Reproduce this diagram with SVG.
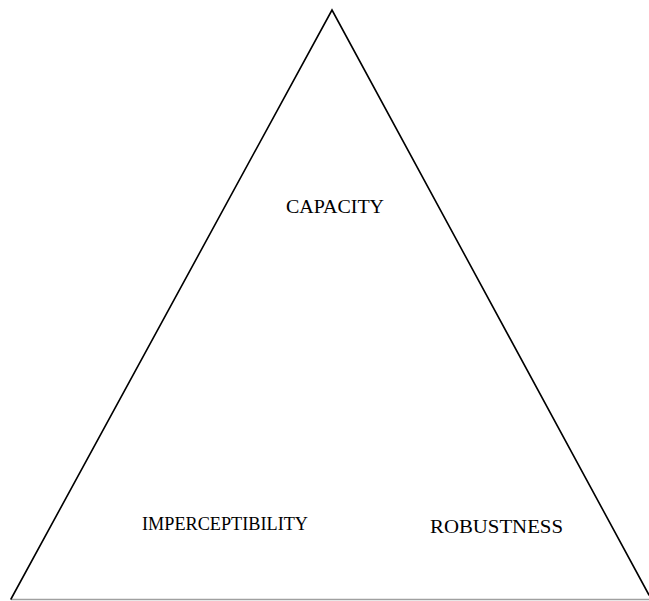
<svg xmlns="http://www.w3.org/2000/svg" width="649" height="601" viewBox="0 0 649 601">
  <style>
    .edge { fill: none; stroke: #000; stroke-width: 1.6; stroke-linecap: round; }
    .base { fill: none; stroke: #a0a0a0; stroke-width: 1.5; }
    .label { font-family: "Liberation Serif", "Times New Roman", serif; font-size: 18px; fill: #000; }
  </style>
  <rect width="649" height="601" fill="#fff"/>
  <g id="connectors">
    <line class="base" x1="11" y1="599.5" x2="649" y2="599.5"/>
    <polyline class="edge" points="11,599 332,10 649,595"/>
  </g>
  <g id="capacity">
    <text class="label" x="286" y="213" textLength="98" lengthAdjust="spacingAndGlyphs">CAPACITY</text>
  </g>
  <g id="imperceptibility">
    <text class="label" x="142" y="530" textLength="166" lengthAdjust="spacingAndGlyphs">IMPERCEPTIBILITY</text>
  </g>
  <g id="robustness">
    <text class="label" x="430" y="533" textLength="133" lengthAdjust="spacingAndGlyphs">ROBUSTNESS</text>
  </g>
</svg>
